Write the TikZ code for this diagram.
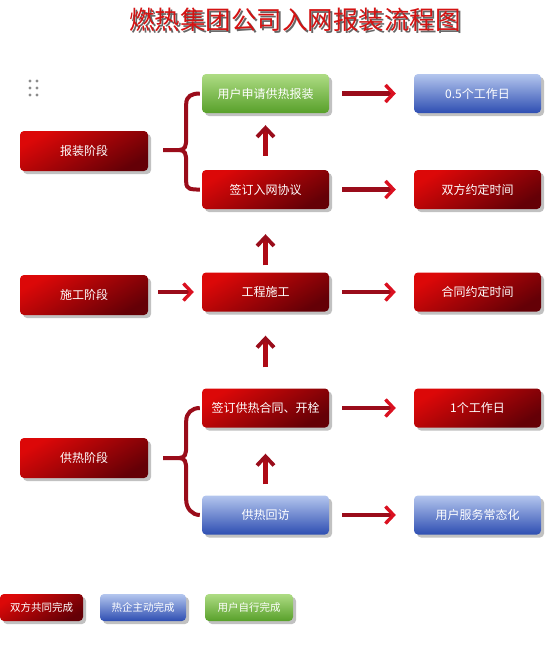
\documentclass[tikz,border=0pt]{standalone}
\usepackage{fontspec}
\setmainfont{Noto Sans CJK SC}
\newfontfamily\cjkbold{Noto Sans CJK SC}[AutoFakeBold=3]
\usetikzlibrary{shadows,arrows.meta,calc}
\definecolor{rtop}{HTML}{DC0808}
\definecolor{rbot}{HTML}{640006}
\definecolor{gtop}{HTML}{AEDC84}
\definecolor{gbot}{HTML}{58A02A}
\definecolor{btop}{HTML}{B4C6EE}
\definecolor{bmid}{HTML}{4C6ECC}
\definecolor{bbot}{HTML}{2E4EB2}
\definecolor{arrd}{HTML}{9A0C1A}
\definecolor{arrh}{HTML}{DA1020}
\definecolor{titlered}{HTML}{D41212}
\tikzset{
  box/.style={rounded corners=4pt, minimum width=127pt, minimum height=39pt,
    text=white, font=\fontsize{12}{13}\selectfont, inner sep=0pt,
    drop shadow={shadow xshift=3pt, shadow yshift=-3pt, opacity=0.35, fill=black!70}},
  redbox/.style={box, top color=rtop, bottom color=rbot, shading angle=30},
  greenbox/.style={box, top color=gtop, bottom color=gbot},
  bluebox/.style={box, top color=btop, middle color=bmid, bottom color=bbot},
  legbox/.style={minimum height=27pt, font=\fontsize{10.5}{11}\selectfont},
  rarrow/.style={line width=4.2pt, arrd, -{Straight Barb[length=8pt,width=17pt,line width=3.4pt,color=arrh]}},
  uarrow/.style={line width=4.6pt, arrd!80!red, -{Straight Barb[length=9pt,width=17pt,line width=3.8pt,color=arrd]}},
  brace/.style={line width=4pt, arrd, line cap=butt},
}
\begin{document}
\begin{tikzpicture}[x=1pt,y=-1pt]
\useasboundingbox (0,0) rectangle (557,657);
% title
\node[text=black!60, font=\cjkbold\fontsize{25.5}{27}\selectfont] (titleshadow) at (297,22) {燃热集团公司入网报装流程图};
\node[text=titlered, font=\cjkbold\fontsize{25.5}{27}\selectfont] (title) at (295,20) {燃热集团公司入网报装流程图};
% dots
\foreach \dx in {30,37} \foreach \dy in {81,88,95} \fill[black!45] (\dx,\dy) circle (1.7);
% stage nodes
\node[redbox, minimum width=128pt, minimum height=40pt] (p1) at (84,151) {报装阶段};
\node[redbox, minimum width=128pt, minimum height=40pt] (p2) at (84,295) {施工阶段};
\node[redbox, minimum width=128pt, minimum height=40pt] (p3) at (84,458) {供热阶段};
% middle column
\node[greenbox] (a1) at (265.5,93.5) {用户申请供热报装};
\node[redbox] (a2) at (265.5,189.5) {签订入网协议};
\node[redbox] (a3) at (265.5,292) {工程施工};
\node[redbox] (a4) at (265.5,408) {签订供热合同、开栓};
\node[bluebox] (a5) at (265.5,515) {供热回访};
% right column
\node[bluebox] (b1) at (477.5,93.5) {0.5个工作日};
\node[redbox] (b2) at (477.5,189.5) {双方约定时间};
\node[redbox] (b3) at (477.5,292) {合同约定时间};
\node[redbox] (b4) at (477.5,408) {1个工作日};
\node[bluebox] (b5) at (477.5,515) {用户服务常态化};
% legend
\node[redbox, legbox, minimum width=83pt] (l1) at (41.5,607.5) {双方共同完成};
\node[bluebox, legbox, minimum width=86pt] (l2) at (143,607.5) {热企主动完成};
\node[greenbox, legbox, minimum width=88pt] (l3) at (249,607.5) {用户自行完成};
% right arrows
\foreach \s/\t in {a1/b1,a2/b2,a3/b3,a4/b4,a5/b5}
  \draw[rarrow] ($(\s.east)+(13,0)$) -- ($(\t.west)+(-18,0)$);
% up arrows
\draw[uarrow] ($(a2.north)+(0,-14)$) -- ($(a1.south)+(0,12)$);
\draw[uarrow] ($(a3.north)+(0,-7)$) -- ($(a2.south)+(0,25)$);
\draw[uarrow] ($(a4.north)+(0,-21)$) -- ($(a3.south)+(0,24)$);
\draw[uarrow] ($(a5.north)+(0,-11)$) -- ($(a4.south)+(0,26)$);
% stage 2 arrow
\draw[rarrow] ($(p2.east)+(10,-3)$) -- ($(a3.west)+(-8,0)$);
% braces
\draw[brace] ($(p1.east)+(15,-1)$) -- ++(16,0)
  .. controls ++(6,0) and ++(0,8) .. ++(7,-12) -- ++(0,-34)
  .. controls ++(0,-8) and ++(-8,0) .. ($(a1.west)+(-2,0)$);
\draw[brace] ($(p1.east)+(31,-1)$)
  .. controls ++(6,0) and ++(0,-8) .. ++(7,12) -- ++(0,20)
  .. controls ++(0,8) and ++(-8,0) .. ($(a2.west)+(-2,0)$);
\draw[brace] ($(p3.east)+(15,0)$) -- ++(16,0)
  .. controls ++(6,0) and ++(0,8) .. ++(7,-12) -- ++(0,-25)
  .. controls ++(0,-8) and ++(-8,0) .. ($(a4.west)+(-2,0)$);
\draw[brace] ($(p3.east)+(31,0)$)
  .. controls ++(6,0) and ++(0,-8) .. ++(7,12) -- ++(0,30)
  .. controls ++(0,8) and ++(-8,0) .. ($(a5.west)+(-2,0)$);
\end{tikzpicture}
\end{document}
